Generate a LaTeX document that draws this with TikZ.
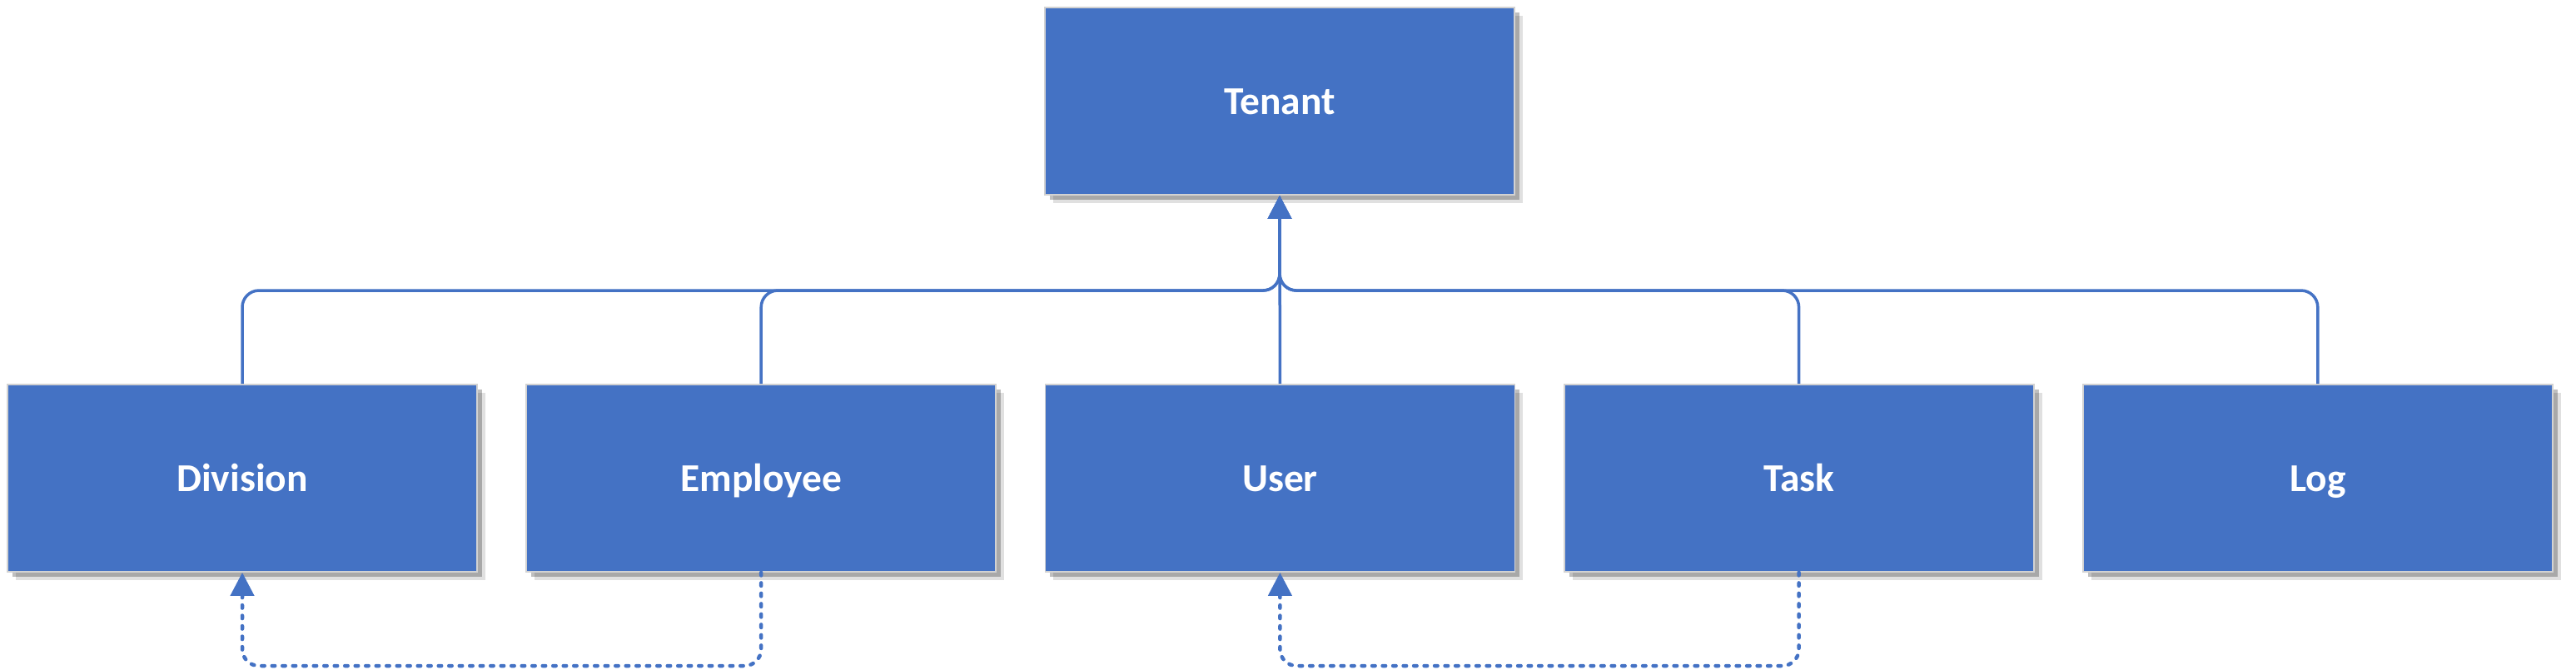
\documentclass[tikz,border=0pt]{standalone}
\usepackage{fontspec}
\setmainfont{Carlito}
\usepackage{xcolor}
\usetikzlibrary{arrows.meta,shadows,calc}
\definecolor{boxblue}{HTML}{4472C4}

\tikzset{
  entity/.style={rectangle, fill=boxblue, draw=gray!35, line width=0.5pt,
    minimum width=5.64cm, minimum height=2.25cm, inner sep=0pt,
    text height=8.9pt, text depth=0pt,
    text=white, font=\fontsize{13.5}{16}\selectfont\bfseries,
    drop shadow={shadow xshift=0.1cm, shadow yshift=-0.1cm, opacity=0.12, fill=black},
    drop shadow={shadow xshift=0.06cm, shadow yshift=-0.06cm, opacity=0.25, fill=black}},
  link/.style={draw=boxblue, line width=0.035cm, rounded corners=0.2cm,
    -{Triangle[width=0.28cm,length=0.28cm]}},
  backref/.style={draw=boxblue, line width=0.045cm, rounded corners=0.2cm,
    line cap=round, dash pattern=on 0.035cm off 0.09cm,
    -{Triangle[width=0.28cm,length=0.28cm]}}
}

\begin{document}
\begin{tikzpicture}
\useasboundingbox (0,0) rectangle (30.94,-8.04);

\node[entity] (Tenant) at (15.37,-1.215) {Tenant};

\node[entity] (Division) at (2.91,-5.745)   {Division};
\node[entity] (Employee) at (9.142,-5.745)  {Employee};
\node[entity] (User)     at (15.374,-5.745) {User};
\node[entity] (Task)     at (21.606,-5.745) {Task};
\node[entity] (Log)      at (27.838,-5.745) {Log};

\coordinate (bus) at (0,-3.49);
\coordinate (low) at (0,-8.0);

% tree to the tenant
\draw[link] (Division.north) -- (Division.north |- bus) -| (Tenant.south);
\draw[link] (Employee.north) -- (Employee.north |- bus) -| (Tenant.south);
\draw[link] (User.north) -- (Tenant.south);
\draw[link] (Task.north) -- (Task.north |- bus) -| (Tenant.south);
\draw[link] (Log.north) -- (Log.north |- bus) -| (Tenant.south);

% dotted references
\draw[backref] (Employee.south) -- (Employee.south |- low) -| (Division.south);
\draw[backref] (Task.south) -- (Task.south |- low) -| (User.south);
\end{tikzpicture}
\end{document}
